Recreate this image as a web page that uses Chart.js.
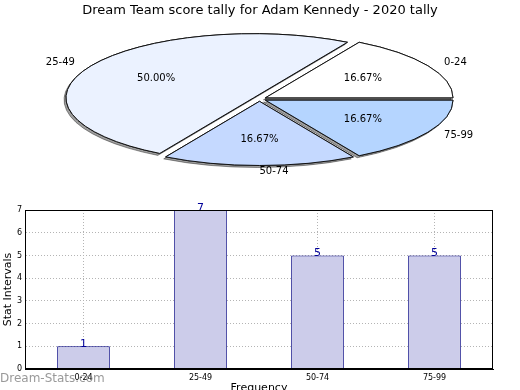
<!DOCTYPE html>
<html>
<head>
<meta charset="utf-8">
<script src="https://cdn.jsdelivr.net/npm/chart.js@4.4.1/dist/chart.umd.min.js"></script>
<style>
  html, body { margin: 0; padding: 0; background: #fff; overflow: hidden; }
  #wrap { position: relative; width: 520px; height: 390px; font-family: 'DejaVu Sans', sans-serif; }
  canvas { position: absolute; left: 0; top: 0; }
  #title { position: absolute; left: 0; top: 2px; width: 520px; text-align: center; font-size: 13px; color: #000; }
  #mark { position: absolute; left: 0; top: 371px; font-size: 12px; color: rgba(110, 110, 110, 0.7); }
</style>
</head>
<body>
<div id="wrap">
  <canvas id="bars" width="520" height="400"></canvas>
  <canvas id="pie" width="520" height="390"></canvas>
  <div id="title">Dream Team score tally for Adam Kennedy - 2020 tally</div>
  <div id="mark">Dream-Stats.com</div>
</div>
<script>
const categories = ['0-24', '25-49', '50-74', '75-99'];
const pieShares = [16.67, 50.00, 16.67, 16.67];
const pieColors = ['#ffffff', '#ebf2ff', '#c5d9ff', '#b5d5ff'];
const counts = [1, 7, 5, 5];
const yTicks = [0, 1, 2, 3, 4, 5, 6, 7];

const FONT = 'DejaVu Sans';

// pie: matplotlib goes counter-clockwise from 3 o'clock, chart.js clockwise -> feed it reversed
const pieOrder = categories.map((_, i) => categories.length - 1 - i);

const PIE_CX = 259.5, PIE_CY = 99;  // centre of the flattened pie on the page
const PIE_SQUASH = 0.342;           // height / width
const EXPLODE = 6.8;                // shift of each wedge, in unsquashed px

const flatPie = {
  id: 'flatPie',
  beforeDatasetDraw(chart, args) {
    const ctx = chart.ctx;
    const arcs = args.meta.data;
    const dpr = chart.currentDevicePixelRatio;

    ctx.save();
    ctx.translate(PIE_CX, PIE_CY);
    ctx.scale(1, PIE_SQUASH);
    ctx.translate(-arcs[0].x, -arcs[0].y);

    // stroke in device space so the outline stays 1px all round
    const stroke = ctx.stroke;
    ctx.stroke = function () {
      this.save();
      this.setTransform(dpr, 0, 0, dpr, 0, 0);
      stroke.apply(this, arguments);
      this.restore();
    };

    const drawAll = () => arcs.forEach(arc => {
      const mid = (arc.startAngle + arc.endAngle) / 2;
      ctx.save();
      ctx.translate(Math.cos(mid) * EXPLODE, Math.sin(mid) * EXPLODE);
      arc.draw(ctx);
      ctx.restore();
    });

    // first pass leaves the shadows, second pass covers them with clean wedges
    ctx.shadowColor = 'rgba(0,0,0,0.38)';
    ctx.shadowOffsetX = -2;
    ctx.shadowOffsetY = 2;
    drawAll();
    ctx.shadowColor = 'rgba(0,0,0,0)';
    drawAll();

    delete ctx.stroke;
    ctx.restore();

    // labels
    ctx.save();
    ctx.font = '10px "' + FONT + '"';
    ctx.fillStyle = '#000';
    ctx.textBaseline = 'middle';
    arcs.forEach((arc, i) => {
      const k = pieOrder[i];
      const mid = (arc.startAngle + arc.endAngle) / 2;
      const c = Math.cos(mid), s = Math.sin(mid);
      const at = d => [PIE_CX + c * (EXPLODE + d), PIE_CY + s * (EXPLODE + d) * PIE_SQUASH];

      let [x, y] = at(arc.outerRadius * 0.6);
      ctx.textAlign = 'center';
      ctx.fillText(pieShares[k].toFixed(2) + '%', x, y);

      [x, y] = at(arc.outerRadius * 1.1);
      ctx.textAlign = c > -0.02 ? 'left' : 'right';
      ctx.fillText(categories[k], x, y);
    });
    ctx.restore();
    return false;
  }
};

new Chart(document.getElementById('pie'), {
  type: 'pie',
  data: {
    labels: pieOrder.map(i => categories[i]),
    datasets: [{
      data: pieOrder.map(i => pieShares[i]),
      backgroundColor: pieOrder.map(i => pieColors[i]),
      borderColor: '#111',
      borderWidth: 1,
      borderJoinStyle: 'miter'
    }]
  },
  options: {
    responsive: false,
    animation: false,
    events: [],
    rotation: 90,
    radius: 187.6,
    plugins: { legend: { display: false }, tooltip: { enabled: false } }
  },
  plugins: [flatPie]
});

// bar chart
const barLabels = {
  id: 'barLabels',
  afterDatasetsDraw(chart) {
    const ctx = chart.ctx;
    ctx.save();
    ctx.font = '11px "' + FONT + '"';
    ctx.fillStyle = '#000099';
    ctx.textAlign = 'center';
    ctx.textBaseline = 'alphabetic';
    chart.getDatasetMeta(0).data.forEach((bar, i) => {
      ctx.fillText(String(counts[i]), bar.x, bar.y + 1);
    });
    ctx.restore();
  }
};

const frame = {
  id: 'frame',
  afterDraw(chart) {
    const { left, top, right, bottom } = chart.chartArea;
    const ctx = chart.ctx;
    ctx.save();
    ctx.strokeStyle = '#000';
    ctx.lineWidth = 1;
    ctx.strokeRect(Math.round(left) + 0.5, Math.round(top) + 0.5,
      Math.round(right - left) - 1, Math.round(bottom - top) - 1);
    ctx.restore();
  }
};

const tickFont = { family: FONT, size: 8 };
const titleFont = { family: FONT, size: 11 };

new Chart(document.getElementById('bars'), {
  type: 'bar',
  data: {
    labels: categories,
    datasets: [{
      data: counts,
      backgroundColor: '#ccccea',
      borderColor: '#000080',
      borderWidth: 1,
      barPercentage: 0.45,
      categoryPercentage: 1
    }]
  },
  options: {
    responsive: false,
    animation: false,
    events: [],
    layout: { padding: { top: 210, right: 27, left: 0, bottom: 0 } },
    plugins: { legend: { display: false }, tooltip: { enabled: false } },
    scales: {
      x: {
        z: 1,
        grid: { offset: false, color: '#b4b4b4', drawTicks: false },
        border: { color: '#000', dash: [1, 2] },
        ticks: { color: '#000', font: tickFont, padding: 4 },
        title: { display: true, text: 'Frequency', color: '#000', font: titleFont, padding: { top: 0, bottom: 5 } },
        afterFit(s) { s.height = 31; }
      },
      y: {
        min: 0,
        max: 7,
        afterBuildTicks(s) { s.ticks = yTicks.map(v => ({ value: v })); },
        grid: { color: '#b4b4b4', drawTicks: false },
        border: { color: '#000', dash: [1, 2] },
        ticks: { color: '#000', font: tickFont, padding: 3 },
        title: { display: true, text: 'Stat Intervals', color: '#000', font: titleFont, padding: { top: 2, bottom: 0 } },
        afterFit(s) { s.width = 25; }
      }
    }
  },
  plugins: [barLabels, frame]
});
</script>
</body>
</html>
